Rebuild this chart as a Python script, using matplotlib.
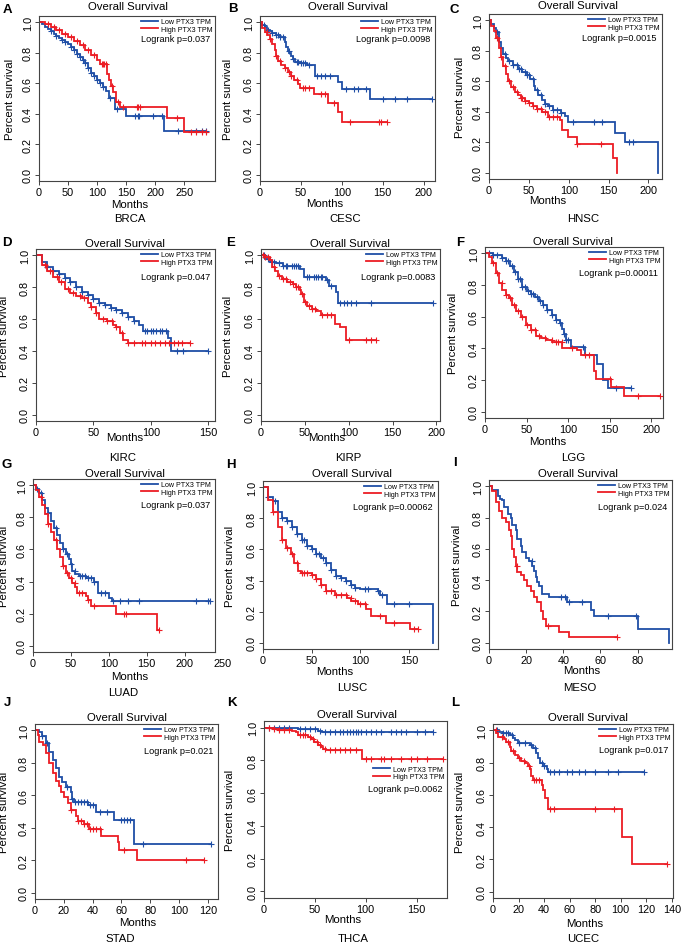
import numpy as np
import matplotlib
matplotlib.use('Agg')
import matplotlib.pyplot as plt
from matplotlib.lines import Line2D

plt.rcParams['font.family'] = ['Liberation Sans', 'DejaVu Sans']

# ------------------------------------------------------------------ data
cancers = ['BRCA', 'CESC', 'HNSC', 'KIRC', 'KIRP', 'LGG',
           'LUAD', 'LUSC', 'MESO', 'STAD', 'THCA', 'UCEC']
letters = ['A', 'B', 'C', 'D', 'E', 'F', 'G', 'H', 'I', 'J', 'K', 'L']
pvalues = ['0.037', '0.0098', '0.0015', '0.047', '0.0083', '0.00011',
           '0.037', '0.00062', '0.024', '0.021', '0.0062', '0.017']
series_labels = ['Low PTX3 TPM', 'High PTX3 TPM']

# x-axis ranges and tick values (months)
xmax_list = [303, 214, 217, 156, 204, 214, 240, 180, 98.5, 127, 180, 141]
xticks_list = [[0, 50, 100, 150, 200, 250], [0, 50, 100, 150, 200],
               [0, 50, 100, 150, 200], [0, 50, 100, 150],
               [0, 50, 100, 150, 200], [0, 50, 100, 150, 200],
               [0, 50, 100, 150, 200], [0, 50, 100, 150],
               [0, 20, 40, 60, 80], [0, 20, 40, 60, 80, 100, 120],
               [0, 50, 100, 150], [0, 20, 40, 60, 80, 100, 120, 140]]
extra_xtick_luad = 250
yticks = [0.0, 0.2, 0.4, 0.6, 0.8, 1.0]

# ---- A  BRCA
BRCA_low_t = [0, 5, 10, 15, 20, 25, 30, 35, 40, 45, 50, 55, 60, 65, 70, 75, 80, 85, 90, 95, 100, 105, 110, 115, 120, 130, 150, 215]
BRCA_low_s = [1.0, 0.985, 0.97, 0.955, 0.94, 0.925, 0.91, 0.895, 0.88, 0.87, 0.86, 0.84, 0.82, 0.79, 0.77, 0.755, 0.73, 0.70, 0.67, 0.645, 0.62, 0.60, 0.575, 0.55, 0.505, 0.43, 0.385, 0.29]
BRCA_low_c = [20, 30, 40, 45, 55, 60, 65, 70, 75, 80, 85, 90, 95, 100, 105, 110, 122, 135, 165, 170, 173, 196, 212, 240, 270, 280, 287]
BRCA_high_t = [0, 10, 20, 30, 40, 50, 60, 70, 80, 90, 100, 105, 117, 120, 124, 128, 132, 140, 220, 250]
BRCA_high_s = [1.0, 0.985, 0.97, 0.95, 0.925, 0.90, 0.875, 0.85, 0.82, 0.785, 0.75, 0.725, 0.66, 0.62, 0.58, 0.54, 0.48, 0.445, 0.37, 0.28]
BRCA_high_c = [15, 25, 35, 45, 55, 65, 75, 85, 95, 108, 110, 112, 115, 125, 136, 145, 168, 170, 174, 237, 262, 270, 280, 287]

# ---- B  CESC
CESC_low_t = [0, 3, 6, 9, 12, 15, 20, 25, 30, 32, 34, 36, 38, 40, 43, 50, 57, 67, 95, 100, 134]
CESC_low_s = [1.0, 0.98, 0.965, 0.95, 0.94, 0.93, 0.915, 0.905, 0.87, 0.84, 0.81, 0.795, 0.78, 0.76, 0.74, 0.73, 0.72, 0.645, 0.61, 0.565, 0.50]
CESC_low_c = [5, 10, 15, 20, 22, 25, 28, 35, 40, 45, 47, 50, 52, 55, 60, 70, 75, 80, 85, 105, 115, 120, 130, 150, 165, 180, 210]
CESC_high_t = [0, 3, 6, 9, 12, 15, 18, 20, 22, 26, 30, 34, 38, 42, 46, 49, 66, 83, 95, 100]
CESC_high_s = [1.0, 0.96, 0.935, 0.915, 0.89, 0.86, 0.82, 0.78, 0.745, 0.72, 0.70, 0.675, 0.648, 0.62, 0.594, 0.568, 0.53, 0.47, 0.41, 0.345]
CESC_high_c = [8, 12, 20, 25, 30, 35, 38, 45, 52, 55, 60, 75, 80, 90, 110, 145, 148, 155]

# ---- C  HNSC
HNSC_low_t = [0, 3, 6, 9, 12, 15, 18, 21, 24, 30, 36, 42, 48, 52, 56, 58, 62, 66, 70, 74, 80, 90, 95, 99, 158, 171, 212.5]
HNSC_low_s = [1.0, 0.975, 0.95, 0.92, 0.86, 0.815, 0.78, 0.755, 0.735, 0.705, 0.68, 0.66, 0.64, 0.615, 0.57, 0.54, 0.51, 0.48, 0.45, 0.435, 0.41, 0.39, 0.37, 0.33, 0.26, 0.20, 0.0]
HNSC_low_c = [10, 20, 25, 30, 35, 38, 40, 45, 48, 50, 55, 60, 65, 70, 75, 80, 85, 90, 105, 132, 142, 175, 180]
HNSC_high_t = [0, 3, 6, 9, 12, 15, 18, 21, 24, 28, 32, 36, 40, 45, 50, 55, 60, 66, 74, 89, 91, 99, 110, 156, 160]
HNSC_high_s = [1.0, 0.96, 0.93, 0.885, 0.82, 0.76, 0.70, 0.65, 0.60, 0.56, 0.53, 0.51, 0.49, 0.47, 0.455, 0.44, 0.42, 0.40, 0.367, 0.345, 0.28, 0.235, 0.19, 0.095, 0.0]
HNSC_high_c = [10, 15, 20, 25, 30, 35, 40, 42, 45, 50, 55, 60, 65, 70, 75, 80, 85, 111, 140]

# ---- D  KIRC
KIRC_low_t = [0, 5, 10, 15, 20, 25, 30, 35, 40, 45, 50, 55, 60, 65, 70, 75, 80, 85, 90, 93, 115, 118]
KIRC_low_s = [1.0, 0.96, 0.93, 0.905, 0.88, 0.855, 0.83, 0.80, 0.77, 0.75, 0.725, 0.70, 0.69, 0.67, 0.655, 0.64, 0.61, 0.585, 0.56, 0.527, 0.48, 0.40]
KIRC_low_c = [10, 15, 20, 25, 30, 35, 40, 45, 50, 55, 60, 65, 70, 75, 80, 85, 95, 97, 100, 102, 105, 108, 110, 113, 123, 128, 150]
KIRC_high_t = [0, 5, 10, 15, 20, 25, 30, 35, 40, 45, 48, 52, 55, 62, 67, 70, 73, 76, 80]
KIRC_high_s = [1.0, 0.94, 0.90, 0.865, 0.83, 0.79, 0.765, 0.745, 0.73, 0.70, 0.675, 0.64, 0.60, 0.585, 0.565, 0.55, 0.51, 0.47, 0.45]
KIRC_high_c = [8, 12, 18, 22, 28, 32, 38, 42, 48, 52, 58, 62, 66, 70, 75, 80, 85, 92, 95, 100, 104, 108, 112, 116, 120, 124, 127, 134]

# ---- E  KIRP
KIRP_low_t = [0, 5, 10, 17, 25, 45, 49, 74, 78, 86, 88]
KIRP_low_s = [1.0, 0.98, 0.96, 0.95, 0.935, 0.915, 0.862, 0.845, 0.81, 0.767, 0.70]
KIRP_low_c = [3, 8, 12, 15, 20, 25, 28, 30, 35, 38, 40, 42, 52, 55, 60, 63, 65, 68, 70, 75, 80, 90, 95, 98, 102, 108, 125, 196]
KIRP_high_t = [0, 5, 10, 13, 16, 19, 24, 30, 36, 40, 44, 46, 49, 52, 58, 63, 68, 84, 90, 97]
KIRP_high_s = [1.0, 0.99, 0.97, 0.93, 0.90, 0.873, 0.85, 0.835, 0.82, 0.80, 0.78, 0.76, 0.705, 0.68, 0.665, 0.65, 0.623, 0.57, 0.55, 0.47]
KIRP_high_c = [2, 5, 8, 15, 20, 25, 28, 33, 37, 40, 42, 47, 50, 55, 58, 62, 70, 75, 80, 100, 120, 125, 131]

# ---- F  LGG
LGG_low_t = [0, 10, 20, 25, 30, 35, 40, 45, 50, 55, 60, 65, 70, 75, 80, 85, 90, 93, 95, 97, 103, 120, 135, 142, 148]
LGG_low_s = [1.0, 0.99, 0.97, 0.95, 0.92, 0.885, 0.84, 0.79, 0.765, 0.745, 0.725, 0.70, 0.675, 0.64, 0.61, 0.58, 0.56, 0.52, 0.49, 0.455, 0.41, 0.36, 0.30, 0.20, 0.15]
LGG_low_c = [5, 10, 15, 20, 25, 28, 32, 36, 40, 42, 45, 48, 52, 55, 58, 62, 66, 70, 75, 80, 85, 90, 95, 97, 100, 118, 158, 176]
LGG_high_t = [0, 5, 9, 13, 17, 21, 25, 29, 33, 37, 43, 49, 55, 61, 67, 73, 81, 93, 111, 116, 131, 134, 152, 167]
LGG_high_s = [1.0, 0.98, 0.94, 0.875, 0.81, 0.77, 0.74, 0.715, 0.675, 0.635, 0.60, 0.55, 0.515, 0.48, 0.465, 0.455, 0.44, 0.40, 0.39, 0.36, 0.26, 0.205, 0.155, 0.10]
LGG_high_c = [10, 15, 20, 25, 30, 35, 40, 45, 50, 55, 60, 65, 72, 80, 85, 88, 92, 105, 120, 125, 150, 184, 210]

# ---- G  LUAD
LUAD_low_t = [0, 4, 8, 12, 16, 20, 24, 28, 32, 36, 40, 44, 48, 50, 52, 56, 60, 70, 80, 86, 100, 104]
LUAD_low_s = [1.0, 0.98, 0.955, 0.91, 0.86, 0.825, 0.78, 0.735, 0.69, 0.64, 0.60, 0.57, 0.54, 0.507, 0.466, 0.445, 0.435, 0.42, 0.40, 0.33, 0.30, 0.28]
LUAD_low_c = [5, 10, 20, 30, 40, 45, 50, 55, 62, 65, 68, 72, 76, 80, 90, 95, 105, 115, 125, 140, 215, 231, 233]
LUAD_high_t = [0, 4, 8, 12, 16, 20, 24, 28, 32, 36, 40, 44, 48, 52, 56, 58, 70, 72, 76, 110, 164]
LUAD_high_s = [1.0, 0.97, 0.93, 0.88, 0.82, 0.76, 0.71, 0.66, 0.60, 0.55, 0.50, 0.455, 0.42, 0.39, 0.366, 0.33, 0.31, 0.285, 0.25, 0.20, 0.10]
LUAD_high_c = [10, 20, 30, 40, 45, 50, 55, 60, 65, 72, 80, 120, 123, 166]

# ---- H  LUSC
LUSC_low_t = [0, 5, 10, 15, 20, 25, 30, 35, 40, 45, 50, 55, 60, 65, 70, 75, 80, 85, 90, 95, 100, 118, 120, 128, 175]
LUSC_low_s = [1.0, 0.94, 0.91, 0.84, 0.80, 0.78, 0.745, 0.70, 0.66, 0.625, 0.60, 0.57, 0.545, 0.51, 0.47, 0.43, 0.415, 0.40, 0.37, 0.35, 0.345, 0.335, 0.31, 0.25, 0.0]
LUSC_low_c = [5, 12, 20, 25, 30, 35, 40, 42, 45, 50, 55, 58, 62, 65, 70, 75, 80, 85, 90, 95, 105, 108, 118, 122, 135, 150]
LUSC_high_t = [0, 5, 10, 15, 20, 24, 29, 32, 36, 39, 50, 55, 60, 65, 74, 86, 91, 98, 106, 111, 127, 151]
LUSC_high_s = [1.0, 0.92, 0.84, 0.745, 0.66, 0.61, 0.57, 0.515, 0.46, 0.45, 0.435, 0.41, 0.37, 0.335, 0.31, 0.29, 0.27, 0.25, 0.215, 0.175, 0.13, 0.09]
LUSC_high_c = [10, 20, 25, 30, 35, 40, 42, 45, 50, 55, 60, 65, 70, 75, 80, 85, 90, 95, 100, 105, 120, 135, 155, 159]

# ---- I  MESO
MESO_low_t = [0, 1.5, 5, 6, 7.2, 8, 10, 11.7, 12.6, 14.4, 15.3, 17, 18, 19.8, 21.6, 23.4, 24.3, 25.2, 26, 27, 28.4, 32.4, 42, 55, 56.6, 80, 97]
MESO_low_s = [1.0, 0.975, 0.94, 0.92, 0.91, 0.87, 0.82, 0.80, 0.75, 0.72, 0.66, 0.62, 0.58, 0.54, 0.52, 0.49, 0.46, 0.42, 0.39, 0.36, 0.31, 0.29, 0.26, 0.21, 0.17, 0.085, 0.0]
MESO_low_c = [23, 39, 41, 43, 50, 64, 79]
MESO_high_t = [0, 1.8, 3.6, 5.4, 7.2, 9, 10.8, 11.7, 12.6, 13.5, 14.4, 15.3, 17, 18.9, 20.7, 22.5, 24.3, 26, 27.9, 28.8, 30.6, 37.8, 43]
MESO_high_s = [1.0, 0.97, 0.90, 0.84, 0.80, 0.77, 0.72, 0.68, 0.60, 0.55, 0.49, 0.45, 0.43, 0.40, 0.36, 0.33, 0.29, 0.26, 0.20, 0.15, 0.11, 0.07, 0.035]
MESO_high_c = [15, 32, 69]

# ---- J  STAD
STAD_low_t = [0, 3, 5, 7.6, 10, 12.3, 14.6, 17, 19, 21.5, 25, 26, 27, 36.6, 42, 55, 69]
STAD_low_s = [1.0, 0.99, 0.963, 0.92, 0.87, 0.818, 0.766, 0.714, 0.683, 0.652, 0.62, 0.58, 0.56, 0.54, 0.50, 0.445, 0.30]
STAD_low_c = [5, 8, 22, 26, 28, 30, 32, 34, 36, 38, 40, 45, 50, 60, 62, 64, 66, 75, 122]
STAD_high_t = [0, 1.8, 3, 5.3, 7.6, 10, 12.3, 14.6, 17, 18, 20.4, 22.7, 25, 28.5, 29.7, 34, 37.8, 46, 57.5, 58.6, 71]
STAD_high_s = [1.0, 0.97, 0.93, 0.91, 0.86, 0.80, 0.74, 0.69, 0.66, 0.62, 0.59, 0.55, 0.51, 0.47, 0.44, 0.42, 0.39, 0.35, 0.31, 0.265, 0.20]
STAD_high_c = [25, 30, 32, 34, 36, 38, 40, 42, 45, 62, 105, 117]

# ---- K  THCA
THCA_low_t = [0, 25, 33, 53, 57]
THCA_low_s = [1.0, 0.995, 0.99, 0.98, 0.97]
THCA_low_c = [5, 10, 15, 20, 25, 35, 40, 45, 50, 55, 60, 65, 70, 75, 78, 82, 85, 88, 90, 92, 95, 100, 105, 110, 115, 125, 130, 135, 140, 150, 158, 166]
THCA_high_t = [0, 5, 10, 15, 28, 31, 33, 43, 46, 49.5, 53, 56, 58, 61, 96]
THCA_high_s = [1.0, 0.995, 0.99, 0.985, 0.98, 0.97, 0.955, 0.945, 0.93, 0.91, 0.895, 0.88, 0.87, 0.862, 0.81]
THCA_high_c = [5, 10, 15, 20, 25, 35, 38, 40, 45, 48, 52, 55, 60, 65, 70, 75, 80, 85, 90, 100, 105, 115, 118, 125, 135, 145, 150, 160, 176]

# ---- L  UCEC
UCEC_low_t = [0, 5, 8, 13, 15.7, 17, 19.6, 29, 31, 34, 35, 36.6, 39, 42, 43]
UCEC_low_s = [1.0, 0.99, 0.985, 0.97, 0.955, 0.94, 0.925, 0.91, 0.89, 0.86, 0.83, 0.80, 0.78, 0.76, 0.745]
UCEC_low_c = [3, 8, 10, 12, 15, 20, 25, 30, 33, 38, 40, 45, 48, 52, 58, 62, 67, 72, 80, 90, 98, 118]
UCEC_high_t = [0, 2.6, 4, 9, 10.5, 13, 14.4, 17, 19.6, 22, 25, 27.5, 28.8, 30, 31.4, 38, 39, 40.6, 43, 101, 109]
UCEC_high_s = [1.0, 0.985, 0.96, 0.95, 0.93, 0.90, 0.875, 0.85, 0.83, 0.81, 0.80, 0.78, 0.76, 0.72, 0.69, 0.66, 0.63, 0.58, 0.51, 0.34, 0.17]
UCEC_high_c = [2, 7, 12, 16, 20, 24, 28, 32, 34, 36, 45, 48, 80, 95, 136]

curves = {
    'BRCA': ((BRCA_low_t, BRCA_low_s, BRCA_low_c), (BRCA_high_t, BRCA_high_s, BRCA_high_c)),
    'CESC': ((CESC_low_t, CESC_low_s, CESC_low_c), (CESC_high_t, CESC_high_s, CESC_high_c)),
    'HNSC': ((HNSC_low_t, HNSC_low_s, HNSC_low_c), (HNSC_high_t, HNSC_high_s, HNSC_high_c)),
    'KIRC': ((KIRC_low_t, KIRC_low_s, KIRC_low_c), (KIRC_high_t, KIRC_high_s, KIRC_high_c)),
    'KIRP': ((KIRP_low_t, KIRP_low_s, KIRP_low_c), (KIRP_high_t, KIRP_high_s, KIRP_high_c)),
    'LGG': ((LGG_low_t, LGG_low_s, LGG_low_c), (LGG_high_t, LGG_high_s, LGG_high_c)),
    'LUAD': ((LUAD_low_t, LUAD_low_s, LUAD_low_c), (LUAD_high_t, LUAD_high_s, LUAD_high_c)),
    'LUSC': ((LUSC_low_t, LUSC_low_s, LUSC_low_c), (LUSC_high_t, LUSC_high_s, LUSC_high_c)),
    'MESO': ((MESO_low_t, MESO_low_s, MESO_low_c), (MESO_high_t, MESO_high_s, MESO_high_c)),
    'STAD': ((STAD_low_t, STAD_low_s, STAD_low_c), (STAD_high_t, STAD_high_s, STAD_high_c)),
    'THCA': ((THCA_low_t, THCA_low_s, THCA_low_c), (THCA_high_t, THCA_high_s, THCA_high_c)),
    'UCEC': ((UCEC_low_t, UCEC_low_s, UCEC_low_c), (UCEC_high_t, UCEC_high_s, UCEC_high_c)),
}

# ------------------------------------------------------------------ layout (pixels)
W, H = 682, 945
# axes box: left, top, right, bottom
boxes = [(39, 17, 215, 182), (260, 17, 435, 182), (489, 15, 662, 180),
         (36, 250, 215, 422), (261, 250, 440, 422), (485, 248, 663, 419),
         (33, 480, 215, 653), (263, 482, 438, 650), (489, 481, 672, 650),
         (35, 725, 218, 900), (264, 722, 447, 899), (493, 725, 673, 899)]
ylabel_off = [24, 27, 24, 27, 28, 27, 24, 28, 27, 26, 29, 28]
title_pos = [(128, 7), (348, 7), (578, 6),
             (125, 244), (350, 244), (573, 242),
             (125, 474), (352, 474), (578, 474),
             (127, 718), (357, 715), (588, 718)]
months_pos = [(130, 205), (325, 204), (548, 201),
              (125, 438), (327, 438), (548, 442),
              (130, 677), (335, 672), (582, 671),
              (138, 923), (343, 920), (585, 924)]
cancer_pos = [(130, 219), (345, 219), (583, 219),
              (123, 458), (348, 458), (573, 458),
              (123, 693), (352, 688), (580, 688),
              (120, 939), (353, 939), (583, 939)]
letter_pos = [(7, 10), (233, 9), (454, 10),
              (7, 243), (231, 243), (460, 243),
              (7, 465), (231, 465), (455, 463),
              (7, 703), (232, 703), (455, 703)]
legend_top = [1.0, 1.0, 1.0, 1.0, 1.0, 1.0, 1.0, 1.0, 1.0, 1.0, 0.76, 1.0]
logrank_y = [0.865, 0.865, 0.86, 0.84, 0.84, 0.85, 0.855, 0.85, 0.846, 0.846, 0.62, 0.856]

BLUE = '#1f4ea6'
RED = '#ec1c24'
SPINE = '#444444'
FS_TICK = 7.8
FS_LAB = 8.2

fig = plt.figure(figsize=(W / 100, H / 100), dpi=100)


def fx(x):
    return x / W


def fy(y):
    return 1 - y / H


def step_curve(ax, t, s, c, color):
    t = np.asarray(t, float)
    s = np.asarray(s, float)
    c = np.asarray(c, float)
    end = max(t[-1], c.max() if len(c) else t[-1])
    xs = np.append(t, end)
    ys = np.append(s, s[-1])
    ax.step(xs, ys, where='post', color=color, lw=1.3, solid_joinstyle='miter')
    idx = np.searchsorted(t, c, side='right') - 1
    ax.plot(c, s[idx], ls='none', marker='+', ms=4.4, mew=0.8, color=color)


for i, name in enumerate(cancers):
    l, t, r, b = boxes[i]
    ax = fig.add_axes([fx(l), fy(b), (r - l) / W, (b - t) / H])
    low, high = curves[name]
    step_curve(ax, *low, BLUE)
    step_curve(ax, *high, RED)
    ax.set_xlim(0, xmax_list[i])
    ax.set_ylim(-0.04, 1.04)
    ax.set_xticks(xticks_list[i])
    ax.set_xticklabels([str(v) for v in xticks_list[i]])
    ax.set_yticks(yticks)
    ax.set_yticklabels(['%.1f' % v for v in yticks])
    ax.tick_params(axis='both', direction='out', length=3, width=0.7,
                   color=SPINE, labelsize=FS_TICK, pad=1.5)
    for lab in ax.get_yticklabels():
        lab.set_rotation(90)
        lab.set_va('center')
    for sp in ax.spines.values():
        sp.set_color(SPINE)
        sp.set_linewidth(0.8)
    ax.set_ylabel('Percent survival', fontsize=FS_LAB)
    ax.yaxis.set_label_coords(-ylabel_off[i] / (r - l), 0.5)

    handles = [Line2D([], [], color=BLUE, lw=1.3), Line2D([], [], color=RED, lw=1.3)]
    ax.legend(handles, series_labels, loc='upper right',
              bbox_to_anchor=(1.0, legend_top[i]), fontsize=5.1, frameon=False,
              handlelength=2.4, handletextpad=0.45, labelspacing=0.05,
              borderpad=0.2, borderaxespad=0.15)
    ax.text(1 - 5 / (r - l), logrank_y[i], 'Logrank p=' + pvalues[i],
            transform=ax.transAxes, ha='right', va='center', fontsize=6.6)

    if name == 'LUAD':
        ax.annotate(str(extra_xtick_luad), xy=(extra_xtick_luad, 0),
                    xycoords=ax.get_xaxis_transform(), xytext=(0, -4.5),
                    textcoords='offset points', ha='center', va='top',
                    fontsize=FS_TICK, annotation_clip=False)

    fig.text(fx(title_pos[i][0]), fy(title_pos[i][1]), 'Overall Survival',
             ha='center', va='center', fontsize=FS_LAB)
    fig.text(fx(months_pos[i][0]), fy(months_pos[i][1]), 'Months',
             ha='center', va='center', fontsize=FS_LAB)
    fig.text(fx(cancer_pos[i][0]), fy(cancer_pos[i][1]), name,
             ha='center', va='center', fontsize=FS_LAB)
    fig.text(fx(letter_pos[i][0]), fy(letter_pos[i][1]), letters[i],
             ha='center', va='center', fontsize=9.5, fontweight='bold')

fig.savefig('out.png', dpi=100)
